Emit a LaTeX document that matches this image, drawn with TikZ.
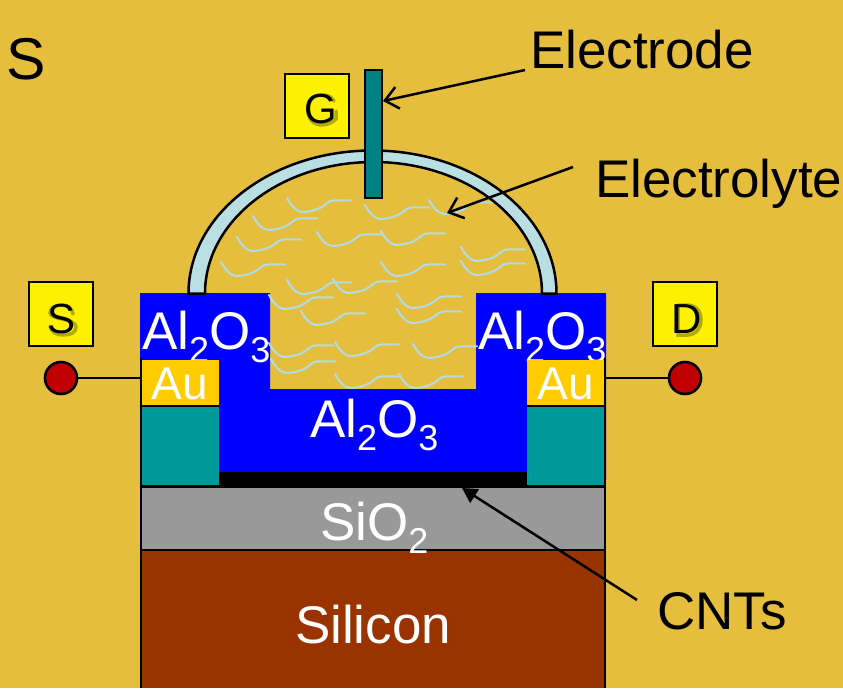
\documentclass[tikz,border=0pt]{standalone}
\usepackage{fontspec}
\setmainfont{Liberation Sans}
\usetikzlibrary{arrows.meta}
\definecolor{bgc}{HTML}{E6BE3E}
\definecolor{domec}{HTML}{B9DFE3}
\definecolor{wavec}{HTML}{B4DDE3}
\definecolor{elecc}{HTML}{008080}
\definecolor{tealc}{HTML}{009999}
\definecolor{auc}{HTML}{FFCC00}
\definecolor{siliconc}{HTML}{993300}
\definecolor{sioc}{HTML}{999999}
\definecolor{padc}{HTML}{C00000}
\definecolor{shadc}{HTML}{7C7C10}
\newcommand{\fsz}[1]{\fontsize{#1}{#1}\selectfont}
\newcommand{\lsub}[1]{\raisebox{-13pt}{\fsz{36}#1}}
\tikzset{
  lay/.style={anchor=north west,inner sep=0pt,outer sep=0pt,draw=none},
  txt/.style={anchor=base west,inner sep=0pt,outer sep=0pt,font=\fsz{53}},
  wht/.style={txt,text=white},
  term/.style={lay,fill=yellow,draw=black,line width=2.4pt,minimum width=64pt,minimum height=64pt},
  tlet/.style={anchor=base,inner sep=0pt,font=\fsz{42}},
  shad/.style={shadc,line width=3.5pt,opacity=.6,line cap=round},
  pad/.style={circle,fill=padc,draw=black,line width=2.6pt,minimum size=32pt,inner sep=0pt,outer sep=0pt},
  wave/.style={wavec,line width=2.1pt,line cap=round,line join=round},
  blk/.style={black,line width=2.5pt},
  barb/.style={blk,-{Straight Barb[length=13pt,width=22pt,line width=2.5pt]}},
}
\begin{document}
\begin{tikzpicture}[x=1pt,y=-1pt]
\useasboundingbox (0,0) rectangle (843,688);
\fill[bgc] (0,0) rectangle (843,688);
% layers
\fill[blue] (140,293) -- (270,293) -- (270,389) -- (476,389) -- (476,293) -- (606,293) -- (606,480) -- (140,480) -- cycle;
\node[wht] (oxl) at (142,349) {Al\lsub{2}O\lsub{3}};
\node[wht] (oxr) at (478,349) {Al\lsub{2}O\lsub{3}};
\node[wht] (oxc) at (310,437) {Al\lsub{2}O\lsub{3}};
% electrolyte waves
\foreach \x/\y in {287/198,365/205,429/200,253/216,317/232,381/231,237/237,221/262,381/262,461/247,461/261,287/280,333/279,269/295,397/294,397/309,301/311,269/343,335/342,413/344,271/359,335/374,399/374}{
  \draw[wave,shift={(\x,\y)}] (0,0) .. controls (4,7) and (8,13) .. (15,14) .. controls (22,14) and (29,12) .. (33,10) .. controls (38,8) and (40,3) .. (47,2.3) -- (64,2.3);
}
% dome
\draw[blk,fill=domec] (188.5,293.5) arc[start angle=180,end angle=360,x radius=184,y radius=143] -- (542,293.5) arc[start angle=0,end angle=-180,x radius=168.5,y radius=131.5] -- cycle;
\node[lay,fill=elecc,draw=black,line width=2pt,minimum width=17pt,minimum height=128pt] (elec) at (364.5,70) {};
% stack
\node[lay,fill=sioc,minimum width=464pt,minimum height=63pt] (sio) at (141,487) {};
\node[lay,fill=siliconc,minimum width=464pt,minimum height=138pt] (si) at (141,550) {};
\node[lay,fill=black,minimum width=308pt,minimum height=15pt] (cnt) at (219,472) {};
\node[lay,fill=tealc,minimum width=78pt,minimum height=80pt] (tl) at (141,406) {};
\node[lay,fill=tealc,minimum width=78pt,minimum height=80pt] (tr) at (527,406) {};
\node[lay,fill=auc,minimum width=78pt,minimum height=46pt] (aul) at (141,360) {};
\node[lay,fill=auc,minimum width=78pt,minimum height=46pt] (aur) at (527,360) {};
\node[anchor=base,inner sep=0pt,text=white,font=\fsz{46}] at (180,399) {Au};
\node[anchor=base,inner sep=0pt,text=white,font=\fsz{46}] at (566,399) {Au};
\draw[blk] (141,358) -- (141,688);
\draw[blk] (605,358) -- (605,688);
\draw[blk] (141,406) -- (219,406);
\draw[blk] (527,406) -- (605,406);
\draw[blk] (140,486.5) -- (606,486.5);
\draw[blk] (140,550) -- (606,550);
\node[wht] (siot) at (320,540) {SiO\lsub{2}};
\node[wht] (sit) at (295,643) {Silicon};
% terminals
\node[term] (gbox) at (285,74) {};
\node[term] (sbox) at (29,282) {};
\node[term] (dbox) at (653,282) {};
% soft letter shadows
\draw[shad] (334,101) .. controls (331,96) and (327,95) .. (322,95) .. controls (312,95) and (308,102) .. (308,110) .. controls (308,119) and (313,125) .. (322,125) .. controls (328,125) and (333,122) .. (336,119) -- (336,111);
\draw[shad] (73,314) .. controls (72,308) and (68,305) .. (62,305) .. controls (55,305) and (50,308) .. (50,313) .. controls (50,320) and (76,318) .. (76,327) .. controls (76,333) and (70,335) .. (63,335) .. controls (56,335) and (51,332) .. (50,326);
\draw[shad] (678,305) -- (678,335) -- (687,335) .. controls (696,335) and (701,328) .. (701,320) .. controls (701,311) and (696,305) .. (687,305) -- (678,305);
\node[tlet] (gt) at (321,123) {G};
\node[tlet] (st) at (62,333) {S};
\node[tlet] (dt) at (687,333) {D};
\node[pad] (pl) at (61,378) {};
\node[pad] (pr) at (685,378) {};
\draw[blk] (pl) -- (aul.west|-pl);
\draw[blk] (pr) -- (aur.east|-pr);
% labels
\node[txt,font=\fsz{59}] (big) at (6,79) {S};
\node[txt] (letxt) at (530,68) {Electrode};
\node[txt] (lytxt) at (595,197) {Electrolyte};
\node[txt] (cntxt) at (657,629) {CNTs};
\coordinate (a1) at (525,70);
\coordinate (t1) at (383,101);
\coordinate (a2) at (573,167);
\coordinate (t2) at (447,213);
\coordinate (a3) at (637,600);
\coordinate (t3) at (462,488);
\draw[barb] (a1) -- (t1);
\draw[barb] (a2) -- (t2);
\draw[blk,-{Triangle[length=15pt,width=16pt]}] (a3) -- (t3);
\end{tikzpicture}
\end{document}
